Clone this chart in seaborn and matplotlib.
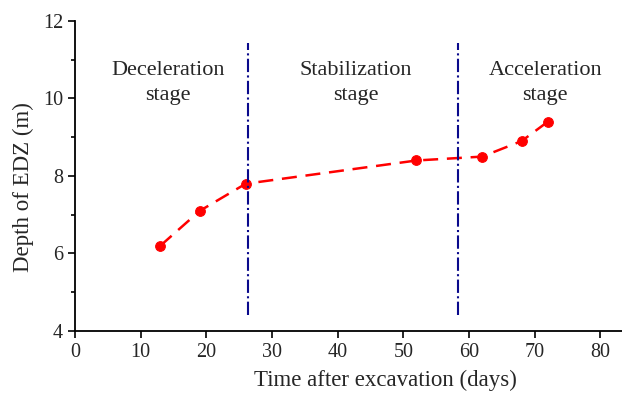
import numpy as np
import pandas as pd
import matplotlib.pyplot as plt
import seaborn as sns
from matplotlib.ticker import MultipleLocator

# --- DATA ---
days = [13, 19, 26, 52, 62, 68, 72]
depth = [6.2, 7.1, 7.8, 8.4, 8.5, 8.9, 9.4]
stage_bounds = [26.3, 58.4]
stage_names = ["Deceleration\nstage", "Stabilization\nstage", "Acceleration\nstage"]
stage_label_x = [14.2, 42.7, 71.6]

# --- STYLE ---
sns.set_style("ticks")
plt.rcParams['font.family'] = ['Liberation Serif', 'DejaVu Serif']
plt.rcParams['mathtext.fontset'] = 'stix'

df = pd.DataFrame({'days': days, 'depth': depth})

fig = plt.figure(figsize=(6.22, 3.94), dpi=100)
ax = fig.add_axes([0.1206, 0.16, 0.8794, 0.7867])

sns.lineplot(data=df, x='days', y='depth', ax=ax, color='#ff0000',
             linestyle=(0, (6, 3.5)), linewidth=1.8, marker='o',
             markersize=7, markeredgecolor='#ff0000')

for xb in stage_bounds:
    ax.plot([xb, xb], [4.4, 11.43], color='#0a0a8c', linestyle='-.',
            linewidth=1.5)

for xt, name in zip(stage_label_x, stage_names):
    ax.text(xt, 10.4, name, ha='center', va='center', fontsize=16,
            linespacing=1.4)

ax.set_xlim(0, 83.3)
ax.set_ylim(4, 12)
ax.xaxis.set_major_locator(MultipleLocator(10))
ax.yaxis.set_major_locator(MultipleLocator(2))
ax.yaxis.set_minor_locator(MultipleLocator(1))
ax.tick_params(axis='both', which='major', labelsize=14.5, direction='out',
               length=5, width=1.2, color='black')
ax.tick_params(axis='y', which='minor', direction='out', length=3,
               width=1.2, color='black')

ax.set_xlabel('Time after excavation (days)', fontsize=16.5)
ax.set_ylabel('Depth of EDZ (m)', fontsize=16.5)
ax.xaxis.set_label_coords(0.567, -0.125)
ax.yaxis.set_label_coords(-0.075, 0.465)

sns.despine(ax=ax, top=True, right=True)
for sp in ['left', 'bottom']:
    ax.spines[sp].set_linewidth(1.3)
    ax.spines[sp].set_color('black')

fig.savefig('out.png', dpi=100)
